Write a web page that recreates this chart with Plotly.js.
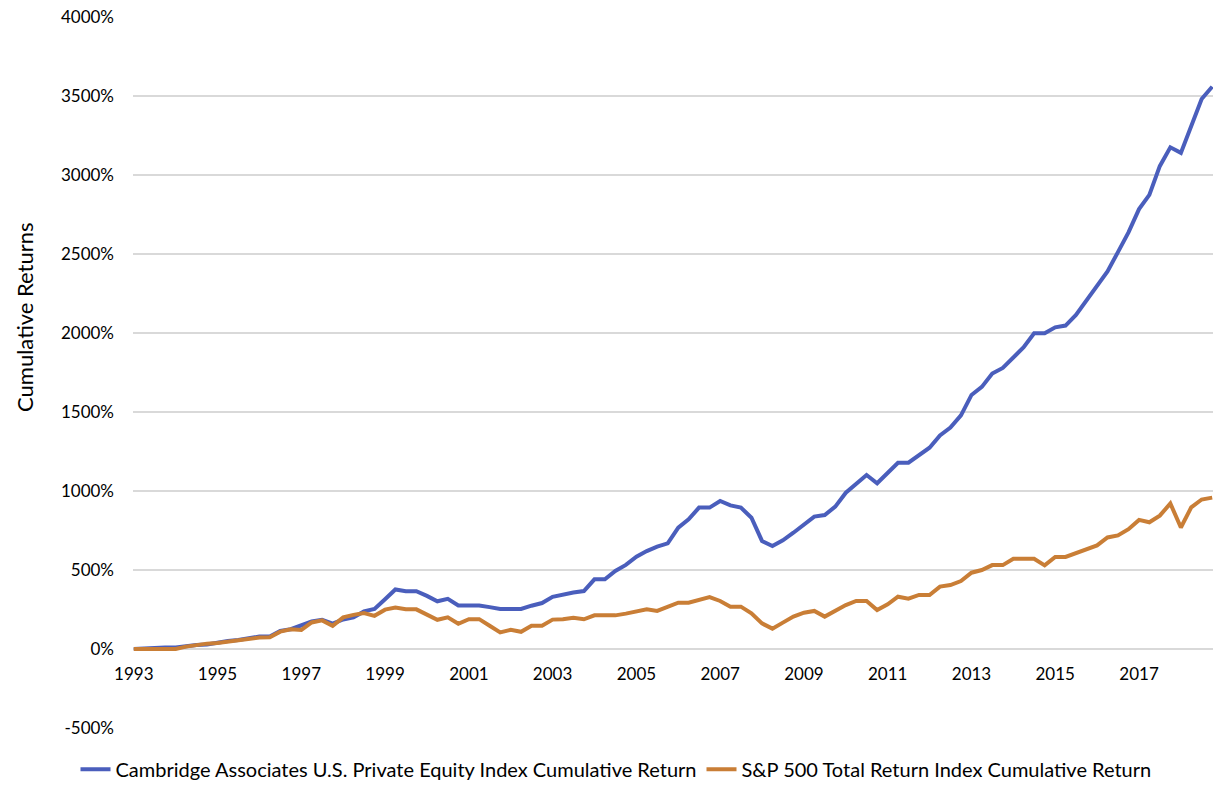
<!DOCTYPE html>
<html>
<head>
<meta charset="utf-8">
<script src="https://cdn.plot.ly/plotly-3.0.1.min.js"></script>
<style>html,body{margin:0;padding:0;background:#fff;}#chart{width:1232px;height:798px;}</style>
</head>
<body>
<div id="chart"></div>
<script>
// Quarterly categories, 1993 Q1 .. 2018 Q4
const quarters = [];
for (let y = 1993; y <= 2018; y++) {
  for (const m of ["01", "04", "07", "10"]) quarters.push(y + "-" + m + "-01");
}

const tickYears = ["1993","1995","1997","1999","2001","2003","2005","2007","2009","2011","2013","2015","2017"];
const yTickVals = [-500, 0, 500, 1000, 1500, 2000, 2500, 3000, 3500, 4000];
const yTickText = ["-500%", "0%", "500%", "1000%", "1500%", "2000%", "2500%", "3000%", "3500%", "4000%"];

// Cumulative returns (%)
const privateEquity = [
  0, 5, 10, 10, 10, 19, 25, 28, 40, 51, 57, 66, 79, 79, 115, 125,
  147, 174, 185, 160, 187, 200, 238, 253, 315, 377, 366, 366, 336, 302, 317, 275,
  275, 275, 265, 253, 253, 253, 274, 291, 330, 346, 357, 367, 441, 441, 494, 532,
  584, 620, 648, 669, 768, 821, 895, 895, 937, 909, 895, 831, 684, 652, 688, 736,
  785, 838, 848, 901, 989, 1046, 1101, 1049, 1116, 1179, 1179, 1226, 1274, 1352, 1401, 1479,
  1608, 1659, 1743, 1779, 1841, 1910, 1998, 1998, 2036, 2047, 2114, 2208, 2296, 2390, 2512, 2637,
  2784, 2874, 3056, 3175, 3140, 3307, 3481, 3559
];

const sp500 = [
  0, 0, 0, 0, 0, 15, 25, 34, 38, 47, 53, 62, 72, 74, 110, 125,
  121, 168, 181, 147, 200, 216, 228, 210, 249, 262, 251, 251, 220, 185, 200, 160,
  189, 189, 147, 105, 121, 109, 147, 147, 186, 188, 198, 188, 213, 213, 213, 224,
  236, 251, 241, 268, 293, 293, 314, 329, 304, 268, 268, 226, 162, 129, 167, 205,
  230, 241, 205, 241, 278, 304, 304, 247, 283, 331, 319, 342, 342, 395, 405, 430,
  483, 500, 531, 531, 571, 571, 571, 529, 583, 583, 608, 633, 656, 706, 719, 758,
  817, 802, 844, 921, 769, 896, 946, 958
];

const seriesNames = [
  "Cambridge Associates U.S. Private Equity Index Cumulative Return",
  "S&P 500 Total Return Index Cumulative Return"
];

const FONT = "Lato, 'Open Sans', sans-serif";

const traces = [
  {
    x: quarters, y: privateEquity, name: seriesNames[0], type: "scatter", mode: "lines",
    line: {color: "#4A5EBC", width: 4}
  },
  {
    x: quarters, y: sp500, name: seriesNames[1], type: "scatter", mode: "lines",
    line: {color: "#C97E36", width: 4}
  }
];

const layout = {
  width: 1232, height: 798,
  margin: {l: 133, r: 19, t: 17, b: 70, autoexpand: false},
  paper_bgcolor: "#ffffff", plot_bgcolor: "#ffffff",
  font: {family: FONT, size: 17, color: "#000000"},
  showlegend: true,
  legend: {
    orientation: "h", x: (616 - 133) / 1080, xanchor: "center", y: -0.058, yanchor: "middle",
    font: {family: FONT, size: 20, color: "#000000"},
    itemwidth: 30, tracegroupgap: 0
  },
  xaxis: {
    type: "date",
    range: ["1992-12-25", "2018-10-08"],
    tickvals: tickYears.map(y => y + "-01-01"),
    ticktext: tickYears,
    showgrid: false, zeroline: false, showline: false, ticks: "",
    anchor: "free", position: 500 / 4500,
    ticklabelstandoff: 13,
    tickfont: {family: FONT, size: 17, color: "#000000"},
    fixedrange: true
  },
  yaxis: {
    range: [-500, 4000], tickvals: yTickVals, ticktext: yTickText,
    showgrid: true, gridcolor: "#D9D9D9", gridwidth: 1.5,
    zeroline: false, showline: false, ticks: "",
    ticklabelstandoff: 18,
    tickfont: {family: FONT, size: 17, color: "#000000"},
    fixedrange: true
  },
  annotations: [
    {
      text: "Cumulative Returns", xref: "paper", yref: "paper",
      x: (25 - 133) / 1080, y: (728 - 317) / 711,
      xanchor: "center", yanchor: "middle", textangle: -90, showarrow: false,
      font: {family: FONT, size: 22, color: "#000000"}
    }
  ]
};

Plotly.newPlot("chart", traces, layout, {displayModeBar: false, staticPlot: true});
</script>
</body>
</html>
